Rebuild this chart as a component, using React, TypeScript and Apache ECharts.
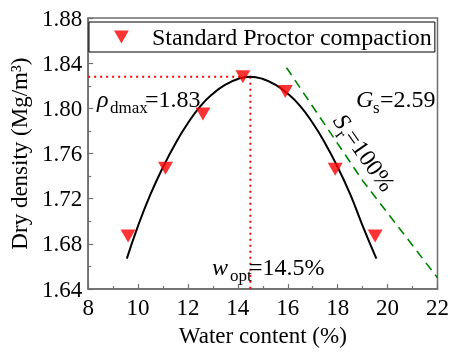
import React, { useEffect, useRef } from "react";
import * as echarts from "echarts";

// Measured compaction points
const waterContent = [9.6, 11.1, 12.6, 14.2, 15.9, 17.9, 19.5];
const dryDensity = [1.687, 1.747, 1.795, 1.828, 1.815, 1.746, 1.687];

// Fitted compaction curve
const fitW = [9.55, 10, 10.5, 11, 11.5, 12, 12.5, 13, 13.5, 14, 14.5, 15, 15.5, 16, 16.5, 17, 17.5, 18, 18.5, 19, 19.55];
const fitRho = [1.667, 1.696, 1.724, 1.748, 1.769, 1.787, 1.802, 1.813, 1.821, 1.826, 1.828, 1.826, 1.821, 1.813, 1.802, 1.787, 1.769, 1.748, 1.724, 1.696, 1.667];

// Zero air voids line (Sr = 100 %)
const srW = [15.95, 19, 22];
const srRho = [1.836, 1.736, 1.65];

// Optimum
const wOpt = 14.5;
const rhoMax = 1.828;

const xTicks = { min: 8, max: 22, interval: 2 };
const yTicks = { min: 1.64, max: 1.88, interval: 0.04 };

const FONT = "Times New Roman, Liberation Serif, serif";
const AXIS_GREY = "#6e6e6e";
const LEGEND_NAME = "Standard Proctor compaction";

function txt(x: number, y: number, text: string, size: number, italic = false) {
  return {
    type: "text",
    x,
    y,
    z: 10,
    style: {
      text,
      fontSize: size,
      fontFamily: FONT,
      fontStyle: italic ? "italic" : "normal",
      fill: "#000",
      align: "left",
      verticalAlign: "middle",
    },
  };
}

export default function App() {
  const ref = useRef<HTMLDivElement>(null);
  useEffect(() => {
    if (!ref.current) return;
    const chart = echarts.init(ref.current, undefined, { renderer: "svg" });
    const big = 24;
    const sub = 17;
    const mid = -0.34 * big; // baseline -> middle offset
    const subMid = 6 - 0.34 * sub;
    chart.setOption({
      animation: false,
      textStyle: { fontFamily: FONT },
      grid: {
        left: 87,
        right: 13,
        top: 18,
        bottom: 59,
        show: true,
        borderColor: AXIS_GREY,
        borderWidth: 1.5,
      },
      xAxis: {
        type: "value",
        min: xTicks.min,
        max: xTicks.max,
        interval: xTicks.interval,
        axisLine: { show: true, onZero: false, lineStyle: { color: AXIS_GREY, width: 1.5 } },
        axisTick: { show: true, inside: true, length: 5, lineStyle: { color: AXIS_GREY, width: 1.2 } },
        minorTick: { show: true, splitNumber: 2, length: 3, lineStyle: { color: AXIS_GREY, width: 1.2 } },
        splitLine: { show: false },
        axisLabel: { color: "#000", fontSize: 23, fontFamily: FONT, margin: 7 },
        name: "Water content (%)",
        nameLocation: "middle",
        nameGap: 32,
        nameTextStyle: { color: "#000", fontSize: 23, fontFamily: FONT },
      },
      yAxis: {
        type: "value",
        min: yTicks.min,
        max: yTicks.max,
        interval: yTicks.interval,
        axisLine: { show: true, onZero: false, lineStyle: { color: AXIS_GREY, width: 1.5 } },
        axisTick: { show: true, inside: true, length: 5, lineStyle: { color: AXIS_GREY, width: 1.2 } },
        minorTick: { show: true, splitNumber: 2, length: 3, lineStyle: { color: AXIS_GREY, width: 1.2 } },
        splitLine: { show: false },
        axisLabel: {
          color: "#000",
          fontSize: 23,
          fontFamily: FONT,
          margin: 6,
          formatter: (v: number) => v.toFixed(2),
        },
        name: "Dry density (Mg/m³)",
        nameLocation: "middle",
        nameGap: 54,
        nameTextStyle: { color: "#000", fontSize: 23, fontFamily: FONT },
      },
      legend: {
        data: [LEGEND_NAME],
        left: 89,
        top: 22,
        orient: "horizontal",
        padding: [3, 3, 3, 25],
        itemWidth: 15,
        itemHeight: 13,
        borderColor: "#000",
        borderWidth: 1,
        backgroundColor: "#fff",
        formatter: (name: string) => `{t|${name}}`,
        textStyle: {
          color: "#000",
          fontSize: 24,
          fontFamily: FONT,
          rich: { t: { fontSize: 24, fontFamily: FONT, color: "#000", padding: [0, 0, 0, 18] } },
        },
        selectedMode: false,
      },
      series: [
        {
          type: "line",
          data: fitW.map((w, i) => [w, fitRho[i]]),
          showSymbol: false,
          smooth: true,
          lineStyle: { color: "#000", width: 2 },
          silent: true,
          z: 3,
        },
        {
          type: "line",
          data: [
            [xTicks.min, rhoMax],
            [wOpt, rhoMax],
          ],
          showSymbol: false,
          lineStyle: { color: "#ff0000", width: 2, type: [2, 4] },
          silent: true,
          z: 2,
        },
        {
          type: "line",
          data: [
            [wOpt, rhoMax],
            [wOpt, yTicks.min],
          ],
          showSymbol: false,
          lineStyle: { color: "#ff0000", width: 2, type: [2, 4] },
          silent: true,
          z: 2,
        },
        {
          type: "line",
          data: srW.map((w, i) => [w, srRho[i]]),
          showSymbol: false,
          lineStyle: { color: "#008000", width: 1.6, type: [9, 6] },
          silent: true,
          z: 2,
        },
        {
          name: LEGEND_NAME,
          type: "scatter",
          data: waterContent.map((w, i) => [w, dryDensity[i]]),
          symbol: "path://M0,0L16,0L8,14Z",
          symbolSize: [15, 13],
          itemStyle: { color: "#ff0000" },
          z: 5,
        },
      ],
      graphic: [
        // rho_dmax = 1.83
        txt(97, 107 + mid, "ρ", big, true),
        txt(110, 107 + subMid, "dmax", sub),
        txt(145, 107 + mid, "=1.83", big),
        // G_s = 2.59
        txt(356, 107 + mid, "G", big, true),
        txt(373, 107 + subMid, "s", sub),
        txt(380, 107 + mid, "=2.59", big),
        // w_opt = 14.5 %
        txt(212, 275 + mid, "w", big, true),
        txt(230, 275 + subMid, "opt", sub),
        txt(249, 275 + mid, "=14.5%", big),
        // S_r = 100 %
        {
          type: "group",
          x: 332,
          y: 121,
          rotation: (-55 * Math.PI) / 180,
          z: 10,
          children: [
            txt(0, mid, "S", big, true),
            txt(13, subMid, "r", sub),
            txt(19, mid, "=100%", big),
          ],
        },
      ],
    });
    return () => chart.dispose();
  }, []);
  return (
    <div
      ref={ref}
      style={{ position: "fixed", left: 0, top: 0, width: 452, height: 352 }}
    />
  );
}
